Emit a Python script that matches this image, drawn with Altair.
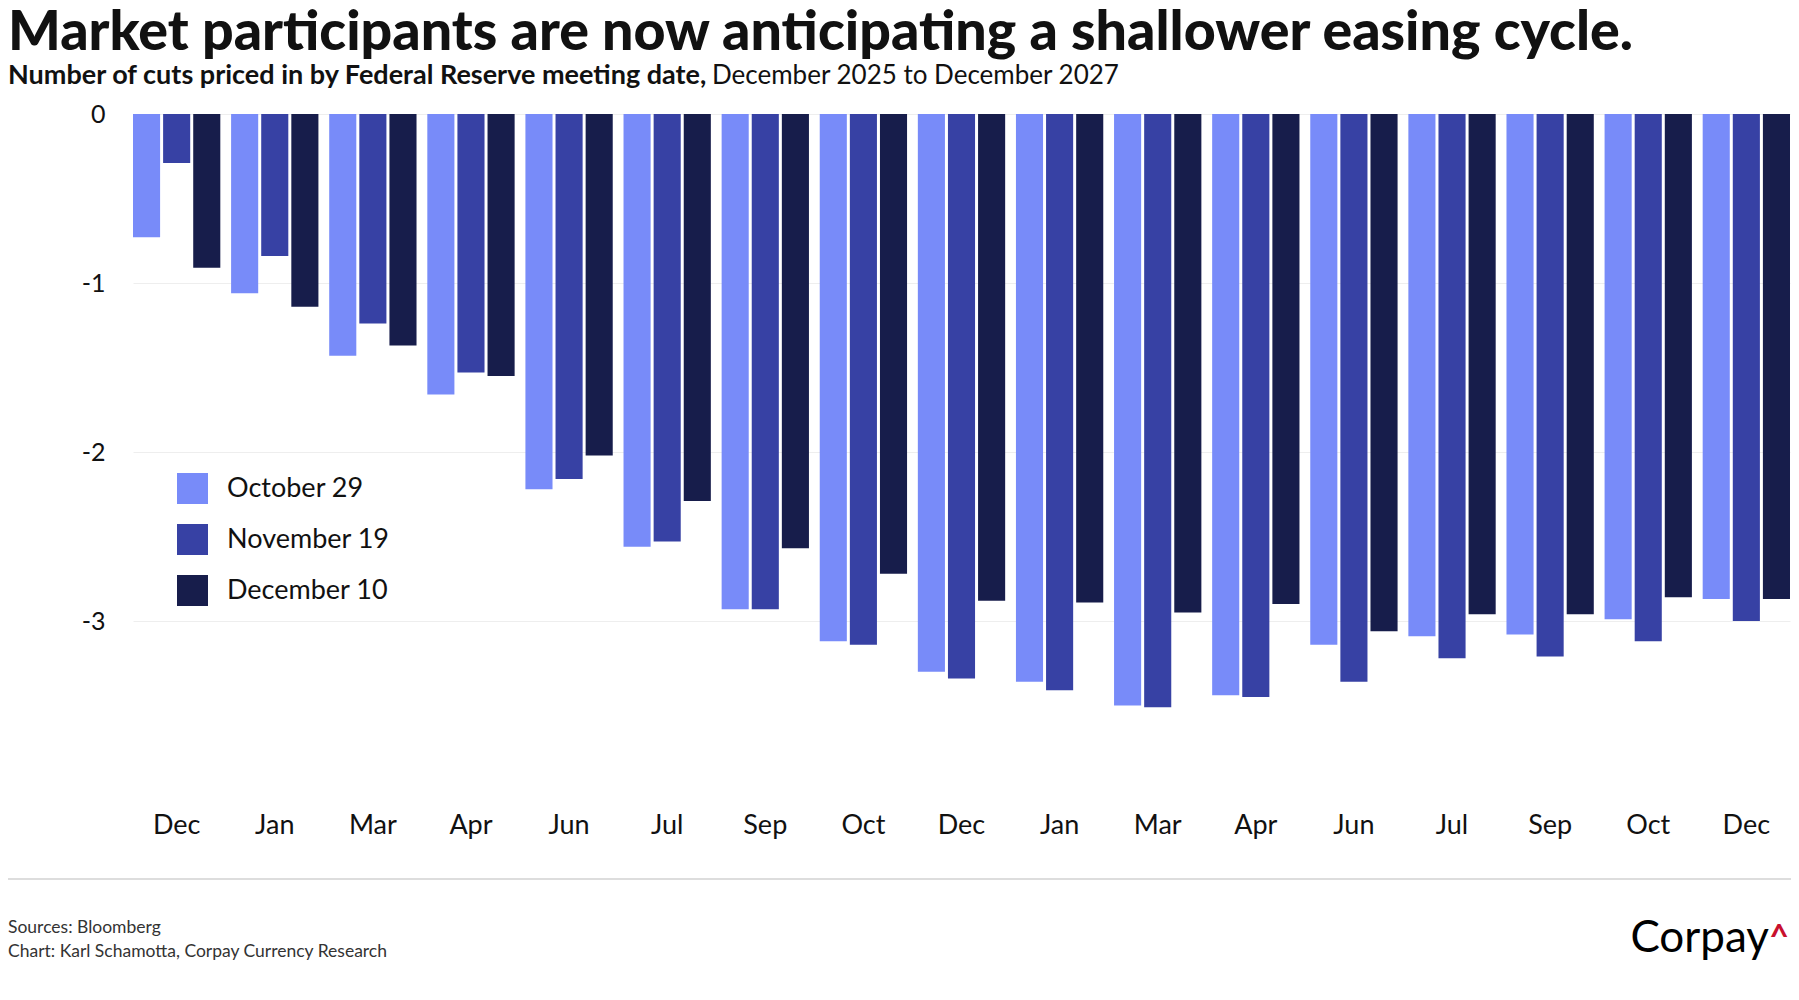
import altair as alt
import pandas as pd

meetings = ["Dec 2025", "Jan 2026", "Mar 2026", "Apr 2026", "Jun 2026", "Jul 2026",
            "Sep 2026", "Oct 2026", "Dec 2026", "Jan 2027", "Mar 2027", "Apr 2027",
            "Jun 2027", "Jul 2027", "Sep 2027", "Oct 2027", "Dec 2027"]
series = ["October 29", "November 19", "December 10"]
colors = ["#788bf9", "#3741a4", "#171d4b"]

oct29 = [-0.73, -1.06, -1.43, -1.66, -2.22, -2.56, -2.93, -3.12, -3.30, -3.36, -3.50,
         -3.44, -3.14, -3.09, -3.08, -2.99, -2.87]
nov19 = [-0.29, -0.84, -1.24, -1.53, -2.16, -2.53, -2.93, -3.14, -3.34, -3.41, -3.51,
         -3.45, -3.36, -3.22, -3.21, -3.12, -3.00]
dec10 = [-0.91, -1.14, -1.37, -1.55, -2.02, -2.29, -2.57, -2.72, -2.88, -2.89, -2.95,
         -2.90, -3.06, -2.96, -2.96, -2.86, -2.87]

title_text = "Market participants are now anticipating a shallower easing cycle."
subtitle_bold = "Number of cuts priced in by Federal Reserve meeting date,"
subtitle_reg = "December 2025 to December 2027"
source_1 = "Sources: Bloomberg"
source_2 = "Chart: Karl Schamotta, Corpay Currency Research"
logo = "Corpay"

rows = []
for name, vals in zip(series, [oct29, nov19, dec10]):
    for m, v in zip(meetings, vals):
        rows.append({"meeting": m, "series": name, "value": v})
df = pd.DataFrame(rows)

W, H = 1657, 676
PL = 125

bars = alt.Chart(df).mark_bar().encode(
    x=alt.X("meeting:N", sort=meetings,
            scale=alt.Scale(paddingInner=0.11, paddingOuter=0),
            axis=alt.Axis(title=None, labelAngle=0, domain=False, ticks=False,
                          labelPadding=22, labelFontSize=27, labelColor="#111111",
                          labelExpr="split(datum.label, ' ')[0]")),
    xOffset=alt.XOffset("series:N", sort=series, scale=alt.Scale(paddingInner=0.1)),
    y=alt.Y("value:Q", scale=alt.Scale(domain=[-4, 0], nice=False),
            axis=alt.Axis(title=None, values=[0, -1, -2, -3], domain=False, ticks=False,
                          grid=True, gridColor="#eeeeee", gridWidth=1,
                          labelPadding=28, labelFontSize=25, labelColor="#111111",
                          labelExpr="toString(datum.value)")),
    color=alt.Color("series:N", sort=series,
                    scale=alt.Scale(domain=series, range=colors),
                    legend=alt.Legend(title=None, orient="none", legendX=44, legendY=359,
                                      symbolType="square", symbolSize=961,
                                      symbolStrokeWidth=0, labelFontSize=27,
                                      labelColor="#111111", labelOffset=19,
                                      labelLimit=500, rowPadding=20, padding=0)),
)


def txt(s, x, y, size, weight=400, color="#111111", align="left", font="Lato"):
    return alt.Chart(pd.DataFrame({"t": [s]})).mark_text(
        align=align, baseline="alphabetic", fontSize=size, fontWeight=weight,
        color=color, font=font
    ).encode(text="t:N", x=alt.value(x), y=alt.value(y))


title = txt(title_text, -PL, -64, 55.5, 900)
sub1 = txt(subtitle_bold, -PL, -30, 27, 700)
sub2 = txt(subtitle_reg, 579, -30, 26, 400)
src1 = txt(source_1, -PL, 819, 17.5, 400, "#333333")
src2 = txt(source_2, -PL, 843, 17.5, 400, "#333333")
logo_t = txt(logo, 1636, 838, 44, 400, "#000000", align="right")
caret = txt("^", 1646, 835, 34, 700, "#c8102e", align="center")

sep = alt.Chart(pd.DataFrame({"a": [0]})).mark_rule(color="#dddddd", strokeWidth=2).encode(
    x=alt.value(-PL), x2=alt.value(W + 1), y=alt.value(765))

chart = alt.layer(bars, title, sub1, sub2, src1, src2, logo_t, caret, sep).properties(
    width=W, height=H,
    autosize=alt.AutoSizeParams(type="none"),
    padding={"left": PL, "top": 106, "right": 1, "bottom": 170},
).configure(font="Lato").configure_view(stroke=None)

chart.save("out.html", embed_options={"renderer": "svg", "actions": False})
